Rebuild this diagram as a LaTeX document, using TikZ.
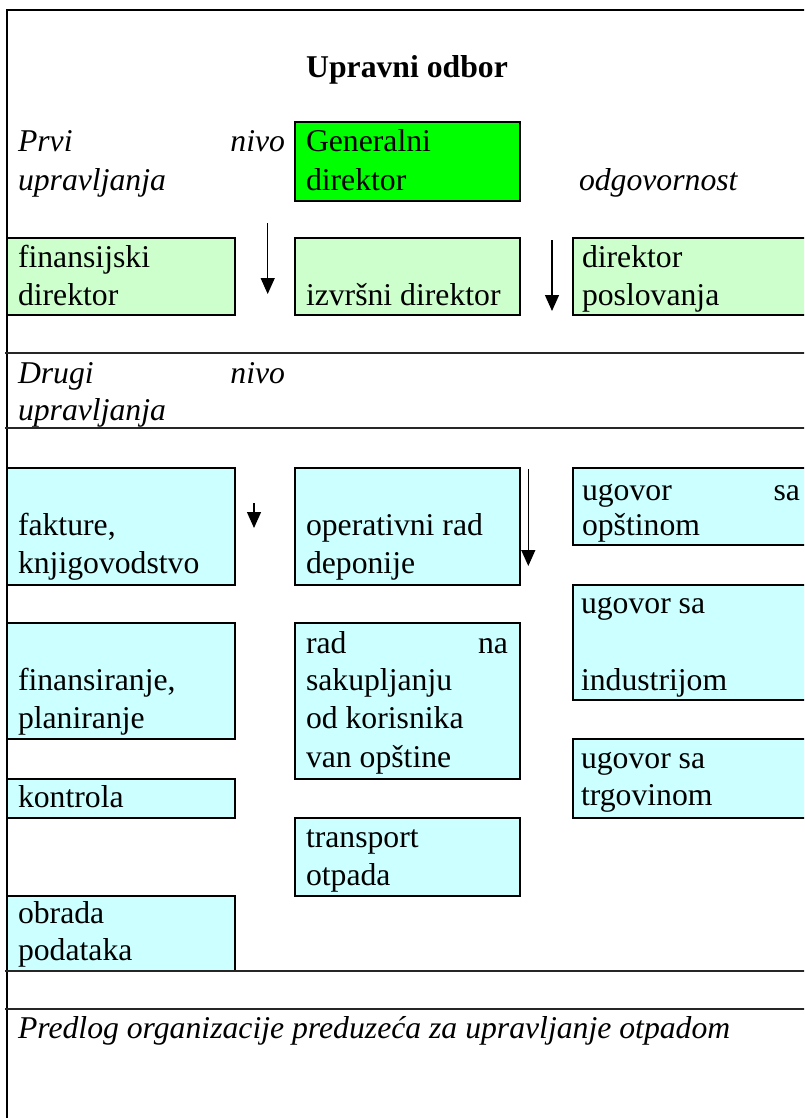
\documentclass[tikz,border=0pt]{standalone}
\usepackage{fontspec}
\setmainfont{Liberation Serif}
\usetikzlibrary{calc,arrows.meta}
\definecolor{gdgreen}{HTML}{00FF00}
\definecolor{lgreen}{HTML}{CCFFCC}
\definecolor{lcyan}{HTML}{CCFFFF}
\begin{document}
\begin{tikzpicture}[x=1pt,y=-1pt,
  bx/.style n args={2}{draw=black,line width=2pt,anchor=north west,inner sep=0pt,outer sep=0pt,minimum width=#1pt,minimum height=#2pt},
  txt/.style={anchor=base west,inner sep=0pt,outer sep=0pt,font=\fontsize{31.7}{38}\selectfont},
  itxt/.style={txt,font=\fontsize{31.7}{38}\selectfont\itshape},
  btxt/.style={anchor=base,inner sep=0pt,outer sep=0pt,font=\fontsize{31.7}{38}\selectfont\bfseries},
  frame/.style={line width=2pt,draw=black},
  sep/.style={line width=1.8pt,draw=black!85},
  arr/.style={line width=1.3pt,-{Triangle[width=14pt,length=16pt]}}
]
\path[use as bounding box] (0,0) rectangle (804,1118);
\clip (0,0) rectangle (804,1118);
\fill[white] (0,0) rectangle (804,1118);

% frame and separators
\coordinate (ftl) at (7,10);
\coordinate (ftr) at (806,10);
\coordinate (fbl) at (7,1120);
\draw[frame] (ftr) -- (ftl) -- (fbl);
\coordinate (s1a) at (5,353);  \coordinate (s1b) at (806,353);
\coordinate (s2a) at (5,428);  \coordinate (s2b) at (806,428);
\coordinate (s3a) at (5,971);  \coordinate (s3b) at (806,971);
\coordinate (s4a) at (5,1009); \coordinate (s4b) at (806,1009);

% title and level labels
\node[btxt] (title) at (407,78) {Upravni odbor};
\node[itxt] (prvi) at (18,152) {\makebox[267pt][s]{Prvi\hfill nivo}};
\node[itxt] (prvi2) at (18,190) {upravljanja};
\node[itxt] (odg) at (579,190) {odgovornost};
\node[itxt] (drugi) at (18,383) {\makebox[267pt][s]{Drugi\hfill nivo}};
\node[itxt] (drugi2) at (18,420) {upravljanja};
\node[itxt] (caption) at (18,1038) {Predlog organizacije preduzeća za upravljanje otpadom};

% first level
\node[bx={225}{79},fill=gdgreen] (gd) at (295,122) {};
\node[txt] (gd1) at ($(gd.north west)+(11,30)$) {Generalni};
\node[txt] (gd2) at ($(gd.north west)+(11,68)$) {direktor};

\node[bx={228}{77},fill=lgreen] (fd) at (7,238) {};
\node[txt] (fd1) at ($(fd.north west)+(11,29)$) {finansijski};
\node[txt] (fd2) at ($(fd.north west)+(11,67)$) {direktor};

\node[bx={225}{77},fill=lgreen] (id) at (295,238) {};
\node[txt] (id1) at ($(id.north west)+(11,67)$) {izvršni direktor};

\node[bx={240}{77},fill=lgreen] (dp) at (573,238) {};
\node[txt] (dp1) at ($(dp.north west)+(9,29)$) {direktor};
\node[txt] (dp2) at ($(dp.north west)+(9,67)$) {poslovanja};

% second level - left column
\node[bx={228}{117},fill=lcyan] (fk) at (7,468) {};
\node[txt] (fk1) at ($(fk.north west)+(11,67)$) {fakture,};
\node[txt] (fk2) at ($(fk.north west)+(11,105)$) {knjigovodstvo};

\node[bx={228}{116},fill=lcyan] (fp) at (7,623) {};
\node[txt] (fp1) at ($(fp.north west)+(11,67)$) {finansiranje,};
\node[txt] (fp2) at ($(fp.north west)+(11,105)$) {planiranje};

\node[bx={228}{39},fill=lcyan] (ko) at (7,779) {};
\node[txt] (ko1) at ($(ko.north west)+(11,28)$) {kontrola};

\node[bx={228}{75},fill=lcyan] (ob) at (7,896) {};
\node[txt] (ob1) at ($(ob.north west)+(11,27)$) {obrada};
\node[txt] (ob2) at ($(ob.north west)+(11,64)$) {podataka};

% second level - middle column
\node[bx={225}{117},fill=lcyan] (or) at (295,468) {};
\node[txt] (or1) at ($(or.north west)+(11,67)$) {operativni rad};
\node[txt] (or2) at ($(or.north west)+(11,105)$) {deponije};

\node[bx={225}{156},fill=lcyan] (rs) at (295,623) {};
\node[txt] (rs1) at ($(rs.north west)+(11,30)$) {\makebox[202pt][s]{rad\hfill na}};
\node[txt] (rs2) at ($(rs.north west)+(11,67)$) {sakupljanju};
\node[txt] (rs3) at ($(rs.north west)+(11,105)$) {od korisnika};
\node[txt] (rs4) at ($(rs.north west)+(11,144)$) {van opštine};

\node[bx={225}{78},fill=lcyan] (tr) at (295,818) {};
\node[txt] (tr1) at ($(tr.north west)+(11,29)$) {transport};
\node[txt] (tr2) at ($(tr.north west)+(11,67)$) {otpada};

% second level - right column
\node[bx={240}{77},fill=lcyan] (uo) at (573,468) {};
\node[txt] (uo1) at ($(uo.north west)+(9,32)$) {\makebox[218pt][s]{ugovor\hfill sa}};
\node[txt] (uo2) at ($(uo.north west)+(9,67)$) {opštinom};

\node[bx={240}{115},fill=lcyan] (ui) at (573,585) {};
\node[txt] (ui1) at ($(ui.north west)+(8,28)$) {ugovor sa};
\node[txt] (ui2) at ($(ui.north west)+(8,105)$) {industrijom};

\node[bx={240}{79},fill=lcyan] (ut) at (573,739) {};
\node[txt] (ut1) at ($(ut.north west)+(8,29)$) {ugovor sa};
\node[txt] (ut2) at ($(ut.north west)+(8,66)$) {trgovinom};

% separators drawn on top
\draw[sep] (s1a) -- (s1b);
\draw[sep] (s2a) -- (s2b);
\draw[sep] (s3a) -- (s3b);
\draw[sep] (s4a) -- (s4b);

% arrows
\coordinate (a1s) at (267.7,223); \coordinate (a1e) at (267.7,294);
\coordinate (a2s) at (552,240);   \coordinate (a2e) at (552,311);
\coordinate (a3s) at (254,503);   \coordinate (a3e) at (254,528);
\coordinate (a4s) at (528.3,469); \coordinate (a4e) at (528.3,566);
\draw[arr] (a1s) -- (a1e);
\draw[arr] (a2s) -- (a2e);
\draw[arr] (a3s) -- (a3e);
\draw[arr] (a4s) -- (a4e);
\end{tikzpicture}
\end{document}
